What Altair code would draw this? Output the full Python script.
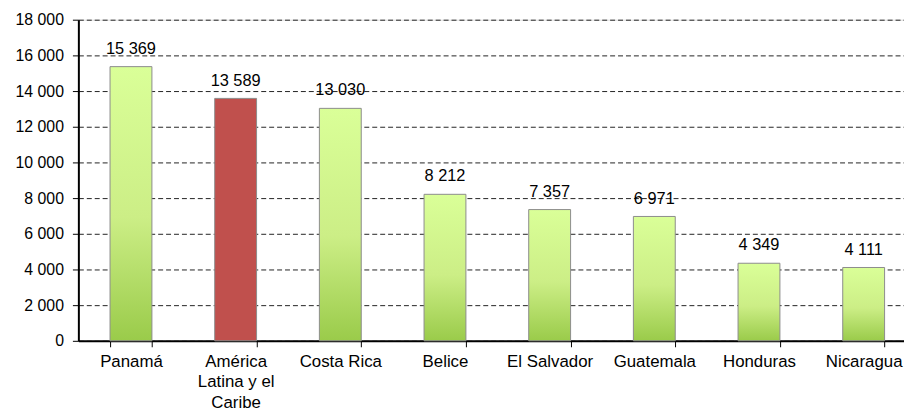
import altair as alt
import pandas as pd

countries = ["Panamá", "América Latina y el Caribe", "Costa Rica", "Belice",
             "El Salvador", "Guatemala", "Honduras", "Nicaragua"]
values = [15369, 13589, 13030, 8212, 7357, 6971, 4349, 4111]
kinds = ["país", "región", "país", "país", "país", "país", "país", "país"]

df = pd.DataFrame({"country": countries, "value": values, "kind": kinds})
df["label"] = [f"{v:,}".replace(",", " ") for v in values]

FONT = "Liberation Sans"

green_grad = alt.Gradient(
    gradient="linear", x1=0, y1=0, x2=0, y2=1,
    stops=[alt.GradientStop(color="#DAFF98", offset=0),
           alt.GradientStop(color="#CCEE86", offset=0.55),
           alt.GradientStop(color="#9ACB4A", offset=1)],
)

x_enc = alt.X(
    "country:N", sort=countries, title=None,
    scale=alt.Scale(paddingInner=0.6, paddingOuter=0.244, align=0.62),
    axis=alt.Axis(
        labelAngle=0, labelFont=FONT, labelFontSize=17, labelColor="#000",
        labelLineHeight=20.5, labelPadding=7, labelBaseline="top",
        tickBand="extent", tickSize=6, tickColor="#000", tickWidth=1,
        domainColor="#000", domainWidth=2, grid=False,
        labelExpr="datum.value == 'América Latina y el Caribe' ? ['América', 'Latina y el', 'Caribe'] : datum.label",
    ),
)

y_enc = alt.Y(
    "value:Q", title=None,
    scale=alt.Scale(domain=[0, 18000], nice=False),
    axis=alt.Axis(
        values=list(range(0, 18001, 2000)),
        labelExpr="replace(format(datum.value, ','), ',', ' ')",
        labelFont=FONT, labelFontSize=16, labelColor="#000", labelPadding=9,
        tickSize=6, tickColor="#000", tickWidth=1,
        domainColor="#000", domainWidth=2,
        grid=True, gridColor="#222", gridDash=[5, 3], gridWidth=1,
    ),
)

base = alt.Chart(df).encode(x=x_enc, y=y_enc)

green = base.transform_filter("datum.kind == 'país'").mark_bar(
    color=green_grad, stroke="#8C8C8C", strokeWidth=1
)
red = base.transform_filter("datum.kind == 'región'").mark_bar(
    color="#C0504D", stroke="#8C8C8C", strokeWidth=1
)
labels = base.mark_text(
    font=FONT, fontSize=16.5, color="#000", baseline="alphabetic", dy=-13
).encode(text="label:N")

chart = alt.layer(green, red, labels).properties(
    width=833, height=324,
    autosize=alt.AutoSizeParams(type="none"),
    padding={"left": 71, "top": 10, "right": 0, "bottom": 70},
).configure_view(stroke=None).configure(background="white")

chart.save("out.html", embed_options={"renderer": "svg", "actions": False})
